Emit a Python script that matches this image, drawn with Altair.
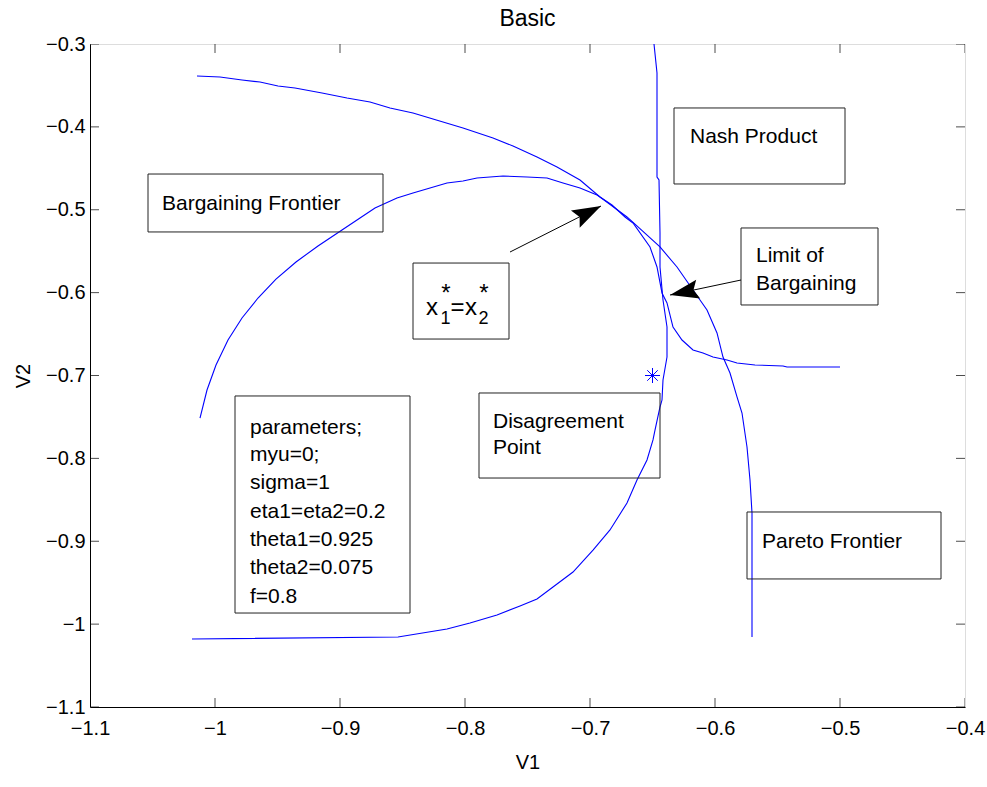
import altair as alt
import pandas as pd

# ---------------- data ----------------
pareto_x = [-1.0144, -0.996, -0.9784, -0.964, -0.9496, -0.936, -0.9144, -0.8944, -0.876, -0.86,
            -0.8416, -0.8256, -0.8016, -0.7776, -0.7616, -0.7424, -0.7264, -0.708, -0.692, -0.6704,
            -0.644, -0.6304, -0.6176, -0.6064, -0.5984, -0.5936, -0.588, -0.5824, -0.5784, -0.5744,
            -0.572, -0.5704, -0.5704]
pareto_y = [-0.3386, -0.3398, -0.3434, -0.3459, -0.3507, -0.3531, -0.3591, -0.3652, -0.37, -0.3772,
            -0.3833, -0.3905, -0.4014, -0.4134, -0.4231, -0.4364, -0.4484, -0.4641, -0.4846, -0.5087,
            -0.5449, -0.5691, -0.5968, -0.621, -0.6487, -0.6777, -0.697, -0.7259, -0.7453, -0.7863,
            -0.8261, -0.8659, -1.0155]

barg_x = [-1.012, -1.0064, -0.9992, -0.9896, -0.9784, -0.9656, -0.9512, -0.9352, -0.9176, -0.8984,
          -0.884, -0.872, -0.8544, -0.8416, -0.828, -0.8144, -0.8016, -0.7904, -0.7696, -0.7504,
          -0.7344, -0.7216, -0.708, -0.6944, -0.6824, -0.672, -0.6656, -0.652, -0.6464, -0.6424,
          -0.6384, -0.6336, -0.6264, -0.6176, -0.6096, -0.6016, -0.5904, -0.5824, -0.568, -0.5456,
          -0.5424, -0.5]
barg_y = [-0.7513, -0.7175, -0.6873, -0.6572, -0.6306, -0.6065, -0.5836, -0.563, -0.5437, -0.5244,
          -0.51, -0.4979, -0.4858, -0.4798, -0.4738, -0.4677, -0.4653, -0.4617, -0.4593, -0.4605,
          -0.4617, -0.4677, -0.4738, -0.4822, -0.4943, -0.5087, -0.516, -0.5449, -0.5691, -0.6004,
          -0.6125, -0.6415, -0.6572, -0.6692, -0.6729, -0.6777, -0.6813, -0.6849, -0.6873, -0.6885,
          -0.6897, -0.6897]

nash_x = [-0.6488, -0.6464, -0.6464, -0.6448, -0.644, -0.644, -0.6416, -0.6384, -0.6384, -0.6416,
          -0.6424, -0.644, -0.648, -0.6496, -0.6544, -0.6624, -0.6704, -0.684, -0.6976, -0.7136,
          -0.7296, -0.7424, -0.756, -0.7744, -0.796, -0.8144, -0.8536, -1.0184]
nash_y = [-0.3, -0.335, -0.4605, -0.4641, -0.5281, -0.5691, -0.6089, -0.6415, -0.6777, -0.7054,
          -0.7296, -0.738, -0.7658, -0.7778, -0.802, -0.8261, -0.8538, -0.8864, -0.9106, -0.9371,
          -0.9552, -0.9697, -0.9781, -0.989, -0.9986, -1.0059, -1.0155, -1.0179]

disagree_x = [-0.65]
disagree_y = [-0.7]

x_ticks = [-1.1, -1.0, -0.9, -0.8, -0.7, -0.6, -0.5, -0.4]
y_ticks = [-1.1, -1.0, -0.9, -0.8, -0.7, -0.6, -0.5, -0.4, -0.3]

# annotation boxes (data units)
box_x1 = [-0.6328, -1.0536, -0.5792, -0.8416, -0.984, -0.7888, -0.5744]
box_x2 = [-0.496, -0.8656, -0.4696, -0.7648, -0.844, -0.644, -0.4192]
box_y1 = [-0.3772, -0.4569, -0.522, -0.5643, -0.7247, -0.7211, -0.8647]
box_y2 = [-0.4689, -0.5268, -0.6149, -0.656, -0.9866, -0.8237, -0.9455]

label_text = ["Nash Product", "Bargaining Frontier", "Limit of", "Bargaining",
              "parameters;", "myu=0;", "sigma=1", "eta1=eta2=0.2", "theta1=0.925",
              "theta2=0.075", "f=0.8", "Disagreement", "Point", "Pareto Frontier"]
label_x = [-0.62, -1.0424, -0.5672, -0.5672,
           -0.972, -0.972, -0.972, -0.972, -0.972, -0.972, -0.972,
           -0.7776, -0.7776, -0.5624]
label_y = [-0.4122, -0.4931, -0.5558, -0.5896,
           -0.7633, -0.7959, -0.8297, -0.8643, -0.8985, -0.9323, -0.9673,
           -0.7561, -0.7875, -0.9009]

# x1* = x2* pieces
eq_text = ["x", "*", "1", "=", "x", "*", "2"]
eq_x = [-0.8264, -0.8152, -0.8156, -0.806, -0.7952, -0.7848, -0.7852]
eq_y = [-0.627, -0.6096, -0.6378, -0.627, -0.627, -0.6096, -0.6378]
eq_size = [24, 24, 18, 24, 24, 24, 18]

# arrows: tail -> tip
arrow_x = [-0.764, -0.5792]
arrow_y = [-0.551, -0.5848]
arrow_x2 = [-0.6912, -0.636]
arrow_y2 = [-0.4955, -0.6029]
arrow_angle = [63, 258]

# ---------------- frames ----------------
rows = []
for name, xs, ys in [("pareto", pareto_x, pareto_y), ("bargaining", barg_x, barg_y),
                     ("nash", nash_x, nash_y)]:
    for i, (a, b) in enumerate(zip(xs, ys)):
        rows.append({"series": name, "i": i, "x": a, "y": b})
lines_df = pd.DataFrame(rows)

point_df = pd.DataFrame({"x": disagree_x, "y": disagree_y})
boxes_df = pd.DataFrame({"x": box_x1, "x2": box_x2, "y": box_y1, "y2": box_y2})
labels_df = pd.DataFrame({"t": label_text, "x": label_x, "y": label_y})
eq_df = pd.DataFrame({"t": eq_text, "x": eq_x, "y": eq_y, "s": eq_size})
arrows_df = pd.DataFrame({"x": arrow_x, "y": arrow_y, "x2": arrow_x2, "y2": arrow_y2,
                          "a": arrow_angle})
xt_df = pd.DataFrame({"x": x_ticks})
yt_df = pd.DataFrame({"y": y_ticks})

FONT = "Liberation Sans"
BLUE = "#0000ff"

xscale = alt.Scale(domain=[-1.1, -0.4], nice=False, zero=False)
yscale = alt.Scale(domain=[-1.1, -0.3], nice=False, zero=False)
xaxis = alt.Axis(values=x_ticks, format="~g", title="V1", tickSize=0, labelPadding=11,
                 labelFontSize=20, labelFont=FONT, labelColor="black", labelFlush=False,
                 labelOverlap=False, domainColor="black", grid=False,
                 titleFont=FONT, titleFontSize=20, titleFontWeight="normal",
                 titleColor="black", titlePadding=14)
yaxis = alt.Axis(values=y_ticks, format="~g", title="V2", tickSize=0, labelPadding=5,
                 labelFontSize=20, labelFont=FONT, labelColor="black", labelFlush=False,
                 labelOverlap=False, domainColor="black", grid=False,
                 titleFont=FONT, titleFontSize=20, titleFontWeight="normal",
                 titleColor="black", titlePadding=12)


def X(f="x"):
    return alt.X(f"{f}:Q", scale=xscale, axis=xaxis)


def Y(f="y"):
    return alt.Y(f"{f}:Q", scale=yscale, axis=yaxis)


lines = alt.Chart(lines_df).mark_line(color=BLUE, strokeWidth=1.1).encode(
    x=X(), y=Y(), detail="series:N", order="i:Q")

star = alt.Chart(point_df).mark_point(
    shape="M-1,0L1,0M0,-1L0,1M-0.7,-0.7L0.7,0.7M-0.7,0.7L0.7,-0.7",
    filled=False, color=BLUE, size=225, strokeWidth=1, opacity=1).encode(x=X(), y=Y())

boxes = alt.Chart(boxes_df).mark_rect(filled=False, color="#222222", strokeWidth=1).encode(
    x=X(), x2="x2:Q", y=Y(), y2="y2:Q")

labels = alt.Chart(labels_df).mark_text(
    align="left", baseline="middle", font=FONT, fontSize=21, color="black").encode(
    x=X(), y=Y(), text="t:N")

eq = alt.Chart(eq_df).mark_text(
    align="center", baseline="alphabetic", font=FONT, color="black").encode(
    x=X(), y=Y(), text="t:N", size=alt.Size("s:Q", scale=None, legend=None))

arrow_lines = alt.Chart(arrows_df).mark_rule(color="black", strokeWidth=1).encode(
    x=X(), y=Y(), x2="x2:Q", y2="y2:Q")

arrow_heads = alt.Chart(arrows_df).mark_point(
    shape="M0,0L0.6,1.8L0,1.5L-0.6,1.8Z", filled=True, color="black", size=1024,
    opacity=1).encode(x=X("x2"), y=Y("y2"), angle=alt.Angle("a:Q", scale=None))

tick_b = alt.Chart(xt_df).mark_tick(orient="vertical", size=18, thickness=1, color="black",
                                    clip=True).encode(x=X(), y=alt.YDatum(-1.1))
tick_t = alt.Chart(xt_df).mark_tick(orient="vertical", size=18, thickness=1, color="black",
                                    clip=True).encode(x=X(), y=alt.YDatum(-0.3))
tick_l = alt.Chart(yt_df).mark_tick(orient="horizontal", size=18, thickness=1, color="black",
                                    clip=True).encode(y=Y(), x=alt.XDatum(-1.1))
tick_r = alt.Chart(yt_df).mark_tick(orient="horizontal", size=18, thickness=1, color="black",
                                    clip=True).encode(y=Y(), x=alt.XDatum(-0.4))

chart = alt.layer(
    lines, star, boxes, labels, eq, arrow_lines, arrow_heads, tick_b, tick_t, tick_l, tick_r
).properties(
    width=875, height=663,
    title=alt.Title("Basic", font=FONT, fontSize=23, fontWeight="normal", color="black",
                    offset=3),
    autosize=alt.AutoSizeParams(type="none"),
    padding={"left": 90, "top": 44, "right": 22, "bottom": 80},
).configure_view(stroke="black", strokeWidth=1).configure(background="white")

chart.save("out.html", embed_options={"renderer": "svg", "actions": False})
